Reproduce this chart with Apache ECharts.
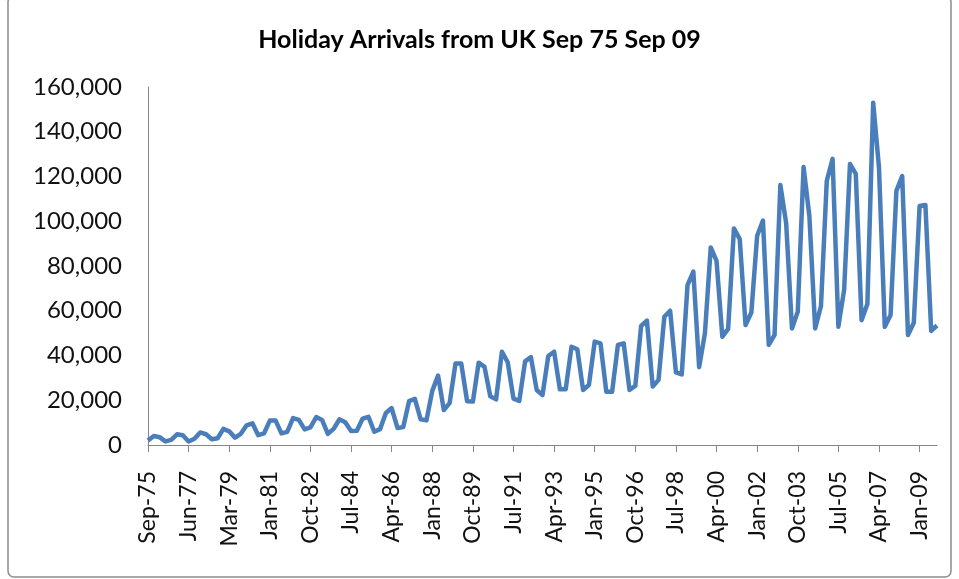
<!DOCTYPE html>
<html>
<head>
<meta charset="utf-8">
<title>Holiday Arrivals from UK</title>
<script src="https://cdn.jsdelivr.net/npm/echarts@6/dist/echarts.min.js"></script>
<style>
    html, body {
        margin: 0;
        padding: 0;
        background: #ffffff;
    }

    #chart {
        width: 959px;
        height: 579px;
    }
</style>
</head>
<body>
<div id="chart"></div>
<script>
    // quarter labels as they appear in the source sheet (tick every 7th)
    const quarters = [
        'Sep-75', 'Dec-75', 'Mar-76', 'Jun-76', 'Sep-76', 'Dec-76', 'Mar-77',
        'Jun-77', 'Sep-77', 'Dec-77', 'Mar-78', 'Jun-78', 'Sep-78', 'Dec-78',
        'Mar-79', 'Jun-79', 'Sep-79', 'Dec-79', 'Mar-80', 'Jun-80', 'Sep-80',
        'Jan-81', 'Apr-81', 'Jul-81', 'Oct-81', 'Jan-82', 'Apr-82', 'Jul-82',
        'Oct-82', 'Jan-83', 'Apr-83', 'Jul-83', 'Oct-83', 'Jan-84', 'Apr-84',
        'Jul-84', 'Oct-84', 'Jan-85', 'Apr-85', 'Jul-85', 'Oct-85', 'Jan-86',
        'Apr-86', 'Jul-86', 'Oct-86', 'Jan-87', 'Apr-87', 'Jul-87', 'Oct-87',
        'Jan-88', 'Apr-88', 'Jul-88', 'Oct-88', 'Jan-89', 'Apr-89', 'Jul-89',
        'Oct-89', 'Jan-90', 'Apr-90', 'Jul-90', 'Oct-90', 'Jan-91', 'Apr-91',
        'Jul-91', 'Oct-91', 'Jan-92', 'Apr-92', 'Jul-92', 'Oct-92', 'Jan-93',
        'Apr-93', 'Jul-93', 'Oct-93', 'Jan-94', 'Apr-94', 'Jul-94', 'Oct-94',
        'Jan-95', 'Apr-95', 'Jul-95', 'Oct-95', 'Jan-96', 'Apr-96', 'Jul-96',
        'Oct-96', 'Jan-97', 'Apr-97', 'Jul-97', 'Oct-97', 'Jan-98', 'Apr-98',
        'Jul-98', 'Oct-98', 'Jan-99', 'Apr-99', 'Jul-99', 'Oct-99', 'Jan-00',
        'Apr-00', 'Jul-00', 'Oct-00', 'Jan-01', 'Apr-01', 'Jul-01', 'Oct-01',
        'Jan-02', 'Apr-02', 'Jul-02', 'Oct-02', 'Jan-03', 'Apr-03', 'Jul-03',
        'Oct-03', 'Jan-04', 'Apr-04', 'Jul-04', 'Oct-04', 'Jan-05', 'Apr-05',
        'Jul-05', 'Oct-05', 'Jan-06', 'Apr-06', 'Jul-06', 'Oct-06', 'Jan-07',
        'Apr-07', 'Jul-07', 'Oct-07', 'Jan-08', 'Apr-08', 'Jul-08', 'Oct-08',
        'Jan-09', 'Apr-09', 'Jul-09', 'Oct-09'
    ];

    // holiday arrivals
    const arrivals = [
        2000, 4000, 3500, 1600, 2300, 4800, 4400,
        1600, 2800, 5600, 4800, 2600, 3000, 7200,
        6100, 3300, 5000, 8800, 9700, 4400, 5200,
        10900, 10900, 5200, 5900, 12000, 11200, 7000,
        7900, 12500, 11200, 5000, 7200, 11500, 10200,
        6300, 6400, 11800, 12600, 5900, 7100, 14300,
        16500, 7600, 8000, 19600, 20600, 11500, 11000,
        24200, 31000, 15600, 18800, 36400, 36400, 19600,
        19400, 36800, 34900, 21800, 20400, 41700, 37000,
        20700, 19700, 37400, 39300, 24600, 22300, 39800,
        41700, 24900, 24900, 43900, 42800, 24600, 26800,
        46200, 45400, 23800, 23800, 44700, 45400, 24600,
        26400, 53200, 55600, 26100, 29100, 57300, 60000,
        32500, 31500, 71500, 77500, 34800, 50000, 88300,
        82300, 48400, 51900, 96800, 92000, 53600, 59200,
        93500, 100300, 44700, 49200, 116200, 99100, 52100,
        59500, 124200, 102400, 52100, 62100, 118000, 127900,
        52900, 69500, 125600, 121200, 55800, 63000, 153000,
        124000, 52800, 58100, 113600, 120200, 49200, 54600,
        106800, 107300, 51000, 53400
    ];

    const yTicks = [0, 20000, 40000, 60000, 80000, 100000, 120000, 140000, 160000];

    const chart = echarts.init(document.getElementById('chart'));

    const option = {
        animation: false,
        backgroundColor: '#ffffff',
        title: {
            text: 'Holiday Arrivals from UK Sep 75 Sep 09',
            left: 'center',
            top: 22,
            textStyle: {
                fontFamily: 'Lato',
                fontWeight: 'bold',
                fontSize: 25,
                color: '#000000'
            }
        },
        grid: {
            left: 148,
            right: 22,
            top: 87,
            bottom: 134
        },
        xAxis: {
            type: 'category',
            data: quarters,
            boundaryGap: false,
            axisLine: {
                lineStyle: {color: '#868686', width: 1}
            },
            axisTick: {
                interval: 6,
                length: 7,
                lineStyle: {color: '#868686'}
            },
            axisLabel: {
                interval: 6,
                rotate: 90,
                margin: 26,
                fontFamily: 'Lato',
                fontSize: 23,
                color: '#111111'
            }
        },
        yAxis: {
            type: 'value',
            min: yTicks[0],
            max: yTicks[yTicks.length - 1],
            interval: 20000,
            splitLine: {show: false},
            axisLine: {
                show: true,
                lineStyle: {color: '#868686', width: 1}
            },
            axisTick: {show: false},
            axisLabel: {
                margin: 26,
                fontFamily: 'Lato',
                fontSize: 24,
                color: '#111111',
                formatter: function (v) {
                    return String(v).replace(/\B(?=(\d{3})+(?!\d))/g, ',');
                }
            }
        },
        graphic: [
            {
                type: 'rect',
                shape: {x: 8, y: -4, width: 943, height: 581, r: 6},
                style: {fill: 'none', stroke: '#8c8c8c', lineWidth: 1.5},
                silent: true
            }
        ],
        series: [
            {
                type: 'line',
                data: arrivals,
                showSymbol: false,
                symbol: 'none',
                lineStyle: {color: '#4a7ebb', width: 4.5, join: 'round'},
                itemStyle: {color: '#4a7ebb'}
            }
        ]
    };

    chart.setOption(option);
</script>
</body>
</html>
